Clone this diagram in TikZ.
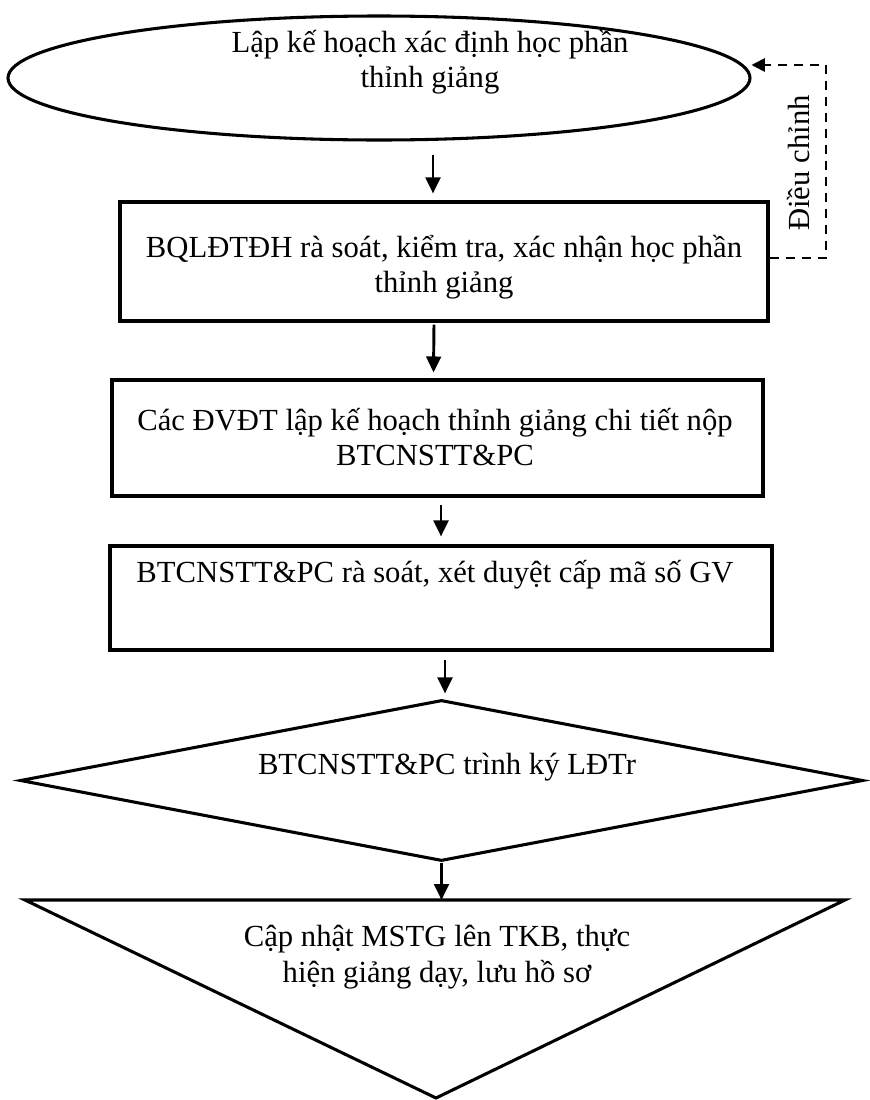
\documentclass[tikz,border=0pt]{standalone}
\usepackage{fontspec}
\setmainfont{Liberation Serif}
\usetikzlibrary{arrows.meta,shapes.geometric,calc}
\tikzset{
  shapeline/.style={draw,line width=2.3pt},
  flow/.style={-{Triangle[length=12pt,width=11pt]},line width=2.2pt},
  txt/.style={align=center,font=\fontsize{23}{26.5}\selectfont}
}
\begin{document}
\begin{tikzpicture}[x=0.75pt,y=-0.75pt]
  \useasboundingbox (0,0) rectangle (870,1100);
  % shapes
  \node[shapeline,ellipse,minimum width=742*0.75pt,minimum height=124*0.75pt] (plan) at (379,78) {};
  \node[shapeline,rectangle,minimum width=648*0.75pt,minimum height=119*0.75pt] (check) at (444,261.5) {};
  \node[shapeline,rectangle,minimum width=651*0.75pt,minimum height=116*0.75pt] (detail) at (437.5,438) {};
  \node[shapeline,rectangle,minimum width=662*0.75pt,minimum height=104*0.75pt] (review) at (441,598) {};
  \node[shapeline,diamond,minimum width=843*0.75pt,minimum height=161*0.75pt] (sign) at (441.5,780.5) {};
  \coordinate (triL) at (25,900);
  \coordinate (triR) at (845,900);
  \coordinate (triB) at (436,1098);
  \draw[line width=2.3pt,line join=miter] (triL) -- (triR) -- (triB) -- cycle;
  % texts
  \node[txt] (tplan) at (430,62) {Lập kế hoạch xác định học phần\\thỉnh giảng};
  \node[txt] (tcheck) at (444,267) {BQLĐTĐH rà soát, kiểm tra, xác nhận học phần\\thỉnh giảng};
  \node[txt] (tdetail) at (435,437) {Các ĐVĐT lập kế hoạch thỉnh giảng chi tiết nộp\\BTCNSTT\&PC};
  \node[txt] (treview) at (435,575) {BTCNSTT\&PC rà soát, xét duyệt cấp mã số GV};
  \node[txt] (tsign) at (447,767) {BTCNSTT\&PC trình ký LĐTr};
  \node[txt] (tupdate) at (437,957) {Cập nhật MSTG lên TKB, thực\\hiện giảng dạy, lưu hồ sơ};
  % arrows
  \draw[flow] ([shift={(54,13)}]plan.south) -- ([shift={(-11,-7)}]check.north);
  \draw[flow] ([shift={(-10,2)}]check.south) -- ([shift={(-4,-6)}]detail.north);
  \draw[flow] ([shift={(3.5,7)}]detail.south) -- ([shift={(0,-8)}]review.north);
  \draw[flow] ([shift={(4,8)}]review.south) -- ([shift={(3.5,-5)}]sign.north);
  \draw[flow] (sign.south) -- (sign.south |- triL);
  % feedback
  \coordinate (back) at (826,65);
  \draw[dashed,dash pattern=on 7pt off 5pt,line width=1.4pt,-{Triangle[length=10pt,width=10pt]}]
    (check.east |- 0,258) -| (back) -- (plan.east |- back);
  \node[txt,rotate=90] (fix) at (799,163) {Điều chỉnh};
\end{tikzpicture}
\end{document}
